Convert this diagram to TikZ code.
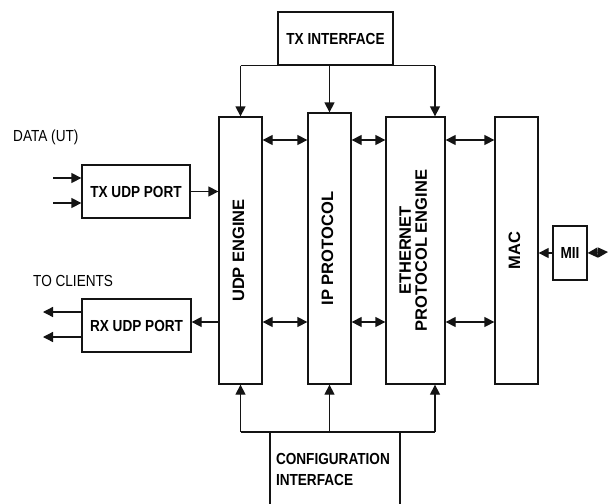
\documentclass[tikz,border=0pt]{standalone}
\usepackage{fontspec}
\setmainfont{Liberation Sans}
\newfontfamily\narrowsf[FakeStretch=0.85]{Liberation Sans}
\usepackage{graphicx}
\usetikzlibrary{arrows.meta,positioning,calc}
\definecolor{ink}{RGB}{20,20,20}
\tikzset{
  blk/.style={draw=ink,line width=1.3pt,fill=white,inner sep=0pt,
    font=\narrowsf\bfseries\fontsize{16}{21}\selectfont,align=center},
  vblk/.style={draw=ink,line width=1.3pt,fill=white,inner sep=0pt,
    font=\bfseries\fontsize{16.5}{15}\selectfont},
  lbl/.style={font=\narrowsf\fontsize{16}{18}\selectfont,inner sep=0pt,anchor=west},
  ar/.style={draw=ink,line width=1.3pt,-{Triangle[length=10pt,width=10pt]}},
  dar/.style={draw=ink,line width=1.3pt,
    {Triangle[length=10pt,width=10pt]}-{Triangle[length=10pt,width=10pt]}},
  bus/.style={draw=ink,line width=1.3pt},
}
\newcommand{\vtxt}[1]{\rotatebox{90}{\begin{tabular}{@{}c@{}}#1\end{tabular}}}

\begin{document}
\begin{tikzpicture}[x=1pt,y=-1pt]
  \fill[white] (0,0) rectangle (609,503);
  \clip (0,0) rectangle (609,503);
  % blocks
  \node[blk,minimum width=115,minimum height=53] (txif) at (335.5,38.5) {TX INTERFACE};
  \node[vblk,minimum width=43,minimum height=267] (udp) at (240.5,250.5) {\vtxt{UDP ENGINE}};
  \node[vblk,minimum width=43,minimum height=271] (ip) at (329.5,248.5) {\vtxt{IP PROTOCOL}};
  \node[vblk,minimum width=59,minimum height=267] (eth) at (415.5,250.5) {\vtxt{ETHERNET\\PROTOCOL ENGINE}};
  \node[vblk,minimum width=43,minimum height=267] (mac) at (516.5,250.5) {\vtxt{MAC}};
  \node[blk,minimum width=34,minimum height=54] (mii) at (570,253) {MII};
  \node[blk,minimum width=108,minimum height=53] (txport) at (136,191.5) {TX UDP PORT};
  \node[blk,minimum width=109,minimum height=53] (rxport) at (136.5,325.5) {RX UDP PORT};
  \node[blk,minimum width=130,minimum height=90,anchor=north] (cfg) at (335,432) {};
  \node[blk,draw=none,fill=none,anchor=north west,align=left] (cfglbl)
    at ([xshift=6pt,yshift=-21pt]cfg.north west) {CONFIGURATION\\INTERFACE};
  \node[lbl] (datalbl) at (13,137) {DATA (UT)};
  \node[lbl] (clientlbl) at (33,281) {TO CLIENTS};
  % free ends and rows
  \coordinate (rowA) at (0,140);
  \coordinate (rowB) at (0,322);
  \coordinate (in1) at (53,178);
  \coordinate (in2) at (53,203);
  \coordinate (out1) at (43,312);
  \coordinate (out2) at (43,337);
  \coordinate (phy) at (608,252);
  \coordinate (ethin) at ([xshift=19.5pt]eth.north);
  \coordinate (ethout) at ([xshift=19.5pt]eth.south);
  % tx interface bus
  \draw[bus] (udp.north |- txif.south) -- (ethin |- txif.south);
  \foreach \n in {udp.north,ip.north,ethin}
    \draw[ar] (\n |- txif.south) -- (\n);
  % configuration bus
  \draw[bus] (udp.south |- cfg.north) -- (ethout |- cfg.north);
  \foreach \n in {udp.south,ip.south,ethout}
    \draw[ar] (\n |- cfg.north) -- (\n);
  % engine links
  \foreach \a/\b in {udp/ip,ip/eth,eth/mac} {
    \draw[dar] (\a.east |- rowA) -- (\b.west |- rowA);
    \draw[dar] (\a.east |- rowB) -- (\b.west |- rowB);
  }
  % ports
  \draw[ar] (txport.east) -- (txport.east -| udp.west);
  \draw[ar] (udp.west |- rowB) -- (rxport.east |- rowB);
  \foreach \c in {in1,in2}
    \draw[ar] (\c) -- (\c -| txport.west);
  \foreach \c in {out1,out2}
    \draw[ar] (\c -| rxport.west) -- (\c);
  % mii
  \draw[ar] (mii.west) -- (mii.west -| mac.east);
  \draw[dar] (mii.east) -- (phy);
\end{tikzpicture}
\end{document}
